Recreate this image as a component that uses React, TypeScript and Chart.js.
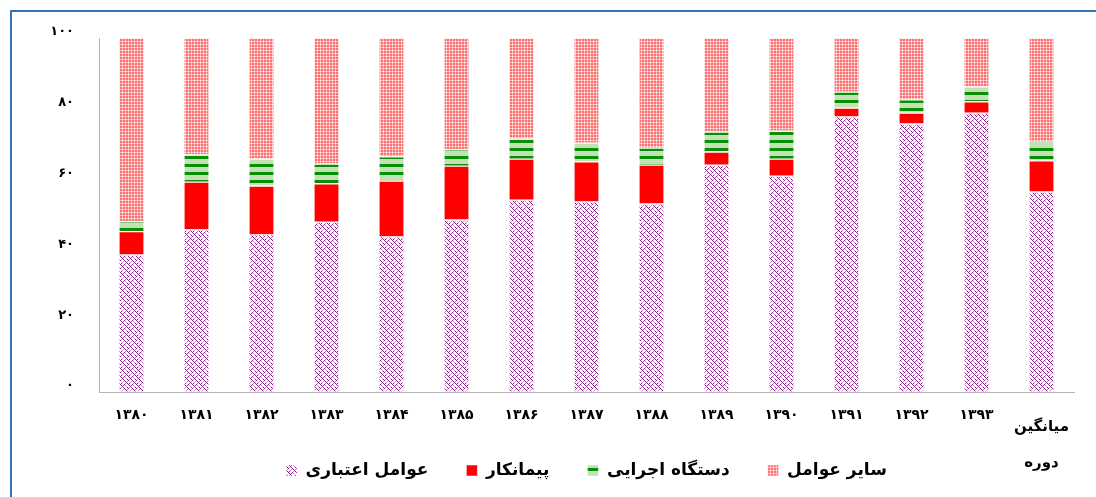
import { useEffect, useRef } from 'react';
import { Chart, registerables } from 'chart.js';

Chart.register(...registerables);

// Years (Persian calendar) plus the period average
const years = ['۱۳۸۰', '۱۳۸۱', '۱۳۸۲', '۱۳۸۳', '۱۳۸۴', '۱۳۸۵', '۱۳۸۶', '۱۳۸۷', '۱۳۸۸', '۱۳۸۹', '۱۳۹۰', '۱۳۹۱', '۱۳۹۲', '۱۳۹۳'];
const averageLabel = ['میانگین', 'دوره'];
const xLabels: (string | string[])[] = [...years, averageLabel];

const seriesNames = ['عوامل اعتباری', 'پیمانکار', 'دستگاه اجرایی', 'سایر عوامل'];

// Share of each factor (percent), stacked bottom to top
const creditFactors = [38.7, 45.8, 44.4, 48.0, 43.8, 48.6, 54.2, 53.7, 53.1, 64.1, 61.0, 77.7, 75.7, 78.8, 56.5];
const contractor = [6.6, 13.5, 13.8, 10.8, 15.8, 15.2, 11.6, 11.3, 11.0, 3.7, 4.8, 2.5, 3.1, 3.2, 8.8];
const executiveAgency = [2.8, 7.7, 7.6, 5.6, 6.8, 4.6, 5.7, 5.3, 4.8, 5.6, 7.9, 4.5, 3.7, 4.2, 5.3];
const otherFactors = [51.9, 33.0, 34.2, 35.6, 33.6, 31.6, 28.5, 29.7, 31.1, 26.6, 26.3, 15.3, 17.5, 13.8, 29.4];

const yTickLabels = ['۰', '۲۰', '۴۰', '۶۰', '۸۰', '۱۰۰'];

const FONT = "'DejaVu Sans', sans-serif";

// Small bitmap tiles used as fill patterns
const weaveRows = [
  'p...p...',
  '.p.p.q..',
  '..p...q.',
  '.q.p...p',
  'p...p...',
  '...q.p.q',
  '..q...p.',
  '.p...q.p',
];
const weaveColors: Record<string, string> = { p: '#8e1c8e', q: '#c98fc9', '.': '#ffffff' };

const stripeRows = ['l', 'l', 'l', 'l', 'd', 'd', 'd', 'l'];
const stripeColors: Record<string, string> = { l: '#c2e2b4', d: '#078f07' };

const checkRows = [
  'ddmddm',
  'ddmddm',
  'mmwmml',
  'ddmddm',
  'ddmddm',
  'mmlmmw',
];
const checkColors: Record<string, string> = { d: '#ff7070', m: '#ffb8b8', l: '#ffdede', w: '#ffffff' };

function bitmapPattern(ctx: CanvasRenderingContext2D, rows: string[], colors: Record<string, string>) {
  const tile = document.createElement('canvas');
  tile.width = rows[0].length;
  tile.height = rows.length;
  const g = tile.getContext('2d')!;
  rows.forEach((row, y) => {
    [...row].forEach((ch, x) => {
      g.fillStyle = colors[ch] || '#ffffff';
      g.fillRect(x, y, 1, 1);
    });
  });
  return ctx.createPattern(tile, 'repeat') as CanvasPattern;
}

export default function App() {
  const canvasRef = useRef<HTMLCanvasElement>(null);

  useEffect(() => {
    const canvas = canvasRef.current!;
    const ctx = canvas.getContext('2d')!;
    const weave = bitmapPattern(ctx, weaveRows, weaveColors);
    const stripes = bitmapPattern(ctx, stripeRows, stripeColors);
    const checks = bitmapPattern(ctx, checkRows, checkColors);

    const segment = { top: 1, bottom: 1, left: 0, right: 0 };
    const lastIndex = xLabels.length - 1;

    const chart = new Chart(canvas, {
      type: 'bar',
      data: {
        labels: xLabels,
        datasets: [
          { label: seriesNames[0], data: creditFactors, backgroundColor: weave },
          { label: seriesNames[1], data: contractor, backgroundColor: '#ff0000' },
          { label: seriesNames[2], data: executiveAgency, backgroundColor: stripes },
          { label: seriesNames[3], data: otherFactors, backgroundColor: checks },
        ].map((d) => ({
          ...d,
          borderColor: '#ffffff',
          borderWidth: segment,
          borderSkipped: false,
          barThickness: 24,
        })),
      },
      options: {
        responsive: true,
        maintainAspectRatio: false,
        animation: false,
        layout: { padding: { left: 0, right: 22, top: 38, bottom: 8 } },
        plugins: {
          title: { display: false },
          tooltip: { enabled: false },
          legend: {
            position: 'bottom',
            fullSize: false,
            labels: {
              color: '#000000',
              font: { family: FONT, size: 17, weight: 'bold' },
              boxWidth: 11,
              boxHeight: 11,
              padding: 38,
            },
          },
        },
        scales: {
          x: {
            stacked: true,
            grid: { display: false },
            border: { display: true, color: '#b4b4b4', width: 1 },
            ticks: {
              color: '#000000',
              // mirrored with negative padding: labels sit below the axis and are not clipped
              mirror: true,
              padding: -53,
              maxRotation: 0,
              autoSkip: false,
              font: (c: any) =>
                c.index === lastIndex
                  ? { family: FONT, size: 15, weight: 'bold', lineHeight: '36px' }
                  : { family: FONT, size: 14, weight: 'bold', lineHeight: '60px' },
            },
            afterFit: (s: any) => {
              s.height = 32;
            },
          },
          y: {
            stacked: true,
            min: 0,
            max: 100,
            grid: { display: false },
            border: { display: true, color: '#b4b4b4', width: 1 },
            ticks: {
              stepSize: 20,
              padding: 17,
              labelOffset: -6,
              color: '#000000',
              font: { family: FONT, size: 13, weight: 'bold' },
              callback: (v: any) => yTickLabels[Math.round(Number(v) / 20)],
            },
            afterFit: (s: any) => {
              s.width = 99;
            },
          },
        },
      } as any,
    });

    return () => chart.destroy();
  }, []);

  return (
    <div style={{ position: 'fixed', left: 0, top: 0, width: 1096, height: 497, overflow: 'hidden', background: '#ffffff' }}>
      <div
        style={{
          position: 'absolute',
          left: 10,
          top: 10,
          right: -50,
          bottom: -50,
          borderTop: '2px solid #2e75b6',
          borderLeft: '2px solid #2e75b6',
        }}
      />
      <div style={{ position: 'absolute', left: 0, top: 0, width: 1096, height: 497 }}>
        <canvas ref={canvasRef} />
      </div>
    </div>
  );
}
